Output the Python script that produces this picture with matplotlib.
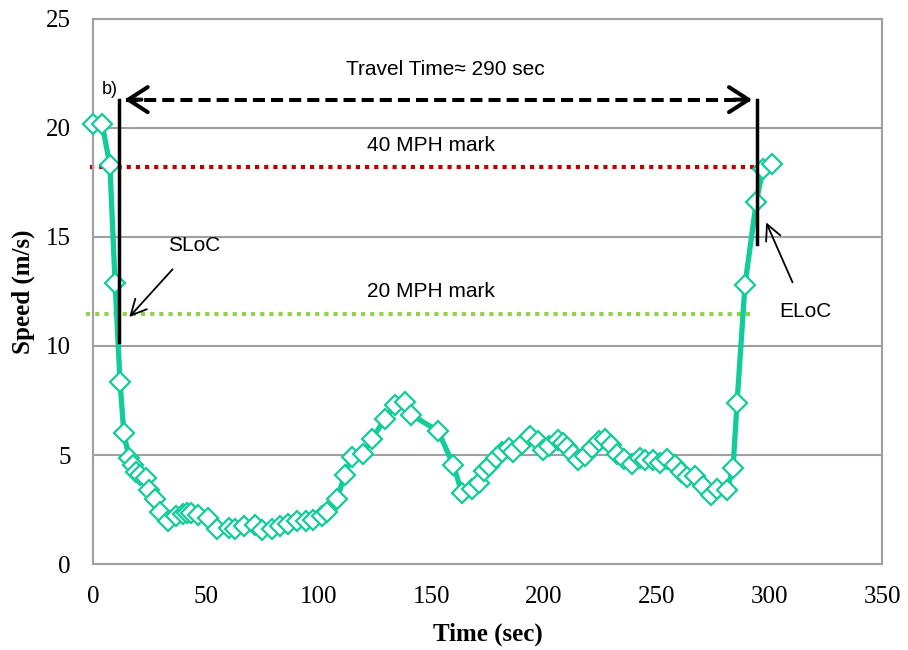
import matplotlib.pyplot as plt

# Speed profile
time_s = [0, 4.0, 7.5, 9.8, 12.0, 13.7, 16.0, 17.8, 19.0, 20.8, 23.5, 24.9,
          27.5, 29.8, 33.3, 37.0, 39.9, 41.7, 43.4, 46.6, 51.0, 55.1, 60.4,
          63.0, 67.0, 71.9, 74.9, 79.5, 83.0, 86.5, 90.5, 94.5, 97.6, 101.6,
          103.9, 108.3, 111.7, 114.7, 119.6, 123.8, 129.5, 134.0, 138.3,
          141.1, 153.1, 159.8, 163.7, 168.1, 171.3, 173.4, 175.7, 178.7,
          181.4, 184.6, 186.4, 190.5, 193.9, 197.3, 199.6, 202.3, 206.2,
          208.5, 210.1, 213.0, 215.1, 218.3, 221.4, 224.5, 227.2, 229.8,
          232.5, 235.5, 239.2, 242.6, 244.9, 248.5, 251.5, 254.7, 258.2,
          260.8, 263.6, 267.1, 270.7, 274.1, 277.0, 281.3, 283.9, 285.7,
          289.2, 294.2, 297.2, 301.3]
speed = [20.2, 20.2, 18.3, 12.9, 8.35, 6.0, 4.85, 4.55, 4.2, 4.1, 3.95, 3.4,
         3.0, 2.4, 1.95, 2.2, 2.3, 2.35, 2.35, 2.25, 2.1, 1.6, 1.65, 1.6,
         1.75, 1.8, 1.55, 1.6, 1.75, 1.85, 1.95, 1.95, 2.0, 2.2, 2.4, 3.0,
         4.1, 4.9, 5.05, 5.75, 6.65, 7.3, 7.45, 6.85, 6.1, 4.55, 3.25, 3.45,
         3.7, 4.25, 4.5, 4.85, 5.15, 5.3, 5.15, 5.5, 5.85, 5.65, 5.25, 5.4,
         5.7, 5.55, 5.35, 5.05, 4.75, 4.95, 5.3, 5.65, 5.75, 5.45, 5.05, 4.8,
         4.6, 4.85, 4.75, 4.75, 4.65, 4.8, 4.55, 4.2, 4.0, 4.05, 3.6, 3.15,
         3.45, 3.4, 4.4, 7.4, 12.8, 16.6, 18.1, 18.35]

mph40 = 18.2
mph20 = 11.45
sloc_t = 11.5
eloc_t = 294.4
arrow_y = 21.3

teal = '#12CC99'
serif = ['Liberation Serif', 'DejaVu Serif']
sans = ['Liberation Sans', 'DejaVu Sans']

fig = plt.figure(figsize=(9.08, 6.5), dpi=100)
ax = fig.add_axes([0.1024, 0.1323, 0.869, 0.8385])

ax.set_xlim(0, 350)
ax.set_ylim(0, 25)
ax.set_xticks(range(0, 351, 50))
ax.set_yticks(range(0, 26, 5))
ax.yaxis.grid(True, color='#a0a0a0', linewidth=1.5)
ax.set_axisbelow(True)
for sp in ax.spines.values():
    sp.set_color('#a0a0a0')
    sp.set_linewidth(1.5)
ax.tick_params(axis='x', length=0, pad=16, labelsize=18)
ax.tick_params(axis='y', length=0, pad=16, labelsize=18)
for lab in ax.get_xticklabels() + ax.get_yticklabels():
    lab.set_family(serif)

ax.set_xlabel('Time (sec)', family=serif, fontsize=18, fontweight='bold', labelpad=10)
ax.set_ylabel('Speed (m/s)', family=serif, fontsize=18, fontweight='bold', labelpad=8)

# MPH reference lines
ax.plot([-1.5, 296.8], [mph40, mph40], color='#C00000', linestyle=(0, (1, 1.2)),
        linewidth=3, clip_on=False, zorder=2)
ax.plot([-3, 292.8], [mph20, mph20], color='#92D050', linestyle=(0, (1, 1.2)),
        linewidth=3, clip_on=False, zorder=2)

# speed curve
ax.plot(time_s, speed, color=teal, linewidth=3.8, marker='D', markersize=10.5,
        markerfacecolor='white', markeredgecolor=teal, markeredgewidth=1.6,
        zorder=3, clip_on=False)

# start / end lines of congestion
ax.plot([sloc_t, sloc_t], [10.2, arrow_y], color='black', linewidth=2.5, zorder=4)
ax.plot([eloc_t, eloc_t], [14.7, arrow_y], color='black', linewidth=2.5, zorder=4)

# travel time arrow: dashed shaft + solid open heads
ax.plot([sloc_t + 3, eloc_t - 3], [arrow_y, arrow_y], color='black',
        linewidth=2.9, linestyle=(0, (3, 1.5)), zorder=4)
for tip, tail in [(sloc_t + 2.5, sloc_t + 10), (eloc_t - 2.0, eloc_t - 10)]:
    ax.annotate('', xy=(tip, arrow_y), xytext=(tail, arrow_y),
                arrowprops=dict(arrowstyle='->,head_length=0.7,head_width=0.45',
                                color='black', linewidth=2.9, shrinkA=0, shrinkB=0,
                                mutation_scale=20),
                zorder=5)

ax.text(156.2, 22.7, 'Travel Time\u2248 290 sec', ha='center', va='center',
        family=sans, fontsize=15)
ax.text(7.3, 21.75, 'b)', ha='center', va='center', family=sans, fontsize=13)
ax.text(150, 19.2, '40 MPH mark', ha='center', va='center', family=sans, fontsize=15)
ax.text(150, 12.5, '20 MPH mark', ha='center', va='center', family=sans, fontsize=15)

ax.annotate('SLoC', xy=(16.1, 11.33), xytext=(44.8, 14.6), ha='center', va='center',
            family=sans, fontsize=15,
            arrowprops=dict(arrowstyle='->', color='black', linewidth=1.3,
                            shrinkA=11, shrinkB=0, mutation_scale=28))
ax.annotate('ELoC', xy=(298.6, 15.67), xytext=(315.9, 11.6), ha='center', va='center',
            family=sans, fontsize=15,
            arrowprops=dict(arrowstyle='->', color='black', linewidth=1.3,
                            shrinkA=13, shrinkB=0, mutation_scale=28))

fig.savefig('out.png', dpi=100)
